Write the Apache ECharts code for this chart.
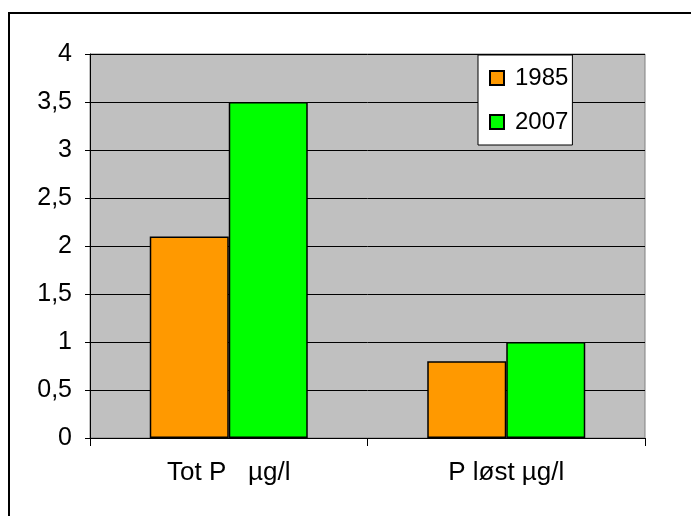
<!DOCTYPE html>
<html>
<head>
<meta charset="utf-8">
<script src="https://cdn.jsdelivr.net/npm/echarts@6/dist/echarts.min.js"></script>
<style>
  html, body { margin: 0; padding: 0; background: #fff; }
  #chart { width: 691px; height: 516px; }
</style>
</head>
<body>
<div id="chart"></div>
<script>
const categories = ['Tot P   µg/l', 'P løst µg/l']
const seriesNames = ['1985', '2007']
const values1985 = [2.1, 0.8]
const values2007 = [3.5, 1.0]
const colorList = ['#ff9900', '#00ff00']

const chart = echarts.init(document.getElementById('chart'))
const font = 'Liberation Sans, Arial, sans-serif'
const option = {
  animation: false,
  textStyle: { fontFamily: font },
  graphic: [{
    type: 'rect',
    shape: { x: 9, y: 13, width: 700, height: 520 },
    style: { fill: 'none', stroke: '#000', lineWidth: 2 },
    silent: true
  }],
  grid: {
    left: 90,
    right: 46,
    top: 54,
    bottom: 78,
    show: true,
    backgroundColor: '#c0c0c0',
    borderColor: '#808080',
    borderWidth: 1
  },
  legend: {
    orient: 'vertical',
    left: 478,
    top: 55,
    itemWidth: 14,
    itemHeight: 14,
    itemGap: 20,
    padding: [11, 4, 11, 11],
    backgroundColor: '#fff',
    borderColor: '#000',
    borderWidth: 1,
    icon: 'rect',
    textStyle: { fontSize: 24, lineHeight: 24, color: '#000', fontFamily: font, padding: [0, 0, 0, 6] },
    data: seriesNames
  },
  xAxis: {
    type: 'category',
    data: categories,
    axisLine: { lineStyle: { color: '#000', width: 1 } },
    axisTick: { show: true, length: 8, lineStyle: { color: '#000' } },
    axisLabel: { fontSize: 26, color: '#000', margin: 22, fontFamily: font }
  },
  yAxis: {
    type: 'value',
    min: 0,
    max: 4,
    interval: 0.5,
    axisLine: { show: true, lineStyle: { color: '#000', width: 1 } },
    axisTick: { show: true, length: 5, lineStyle: { color: '#000' } },
    splitLine: { show: true, lineStyle: { color: '#000', width: 1 } },
    axisLabel: {
      fontSize: 25,
      color: '#000',
      margin: 18,
      fontFamily: font,
      formatter: (v) => String(v).replace('.', ',')
    }
  },
  series: [
    {
      name: seriesNames[0],
      type: 'bar',
      data: values1985,
      barWidth: 79,
      barGap: '0%',
      itemStyle: { color: colorList[0], borderColor: '#000', borderWidth: 1.5 }
    },
    {
      name: seriesNames[1],
      type: 'bar',
      data: values2007,
      barWidth: 79,
      barGap: '0%',
      itemStyle: { color: colorList[1], borderColor: '#000', borderWidth: 1.5 }
    }
  ]
}
chart.setOption(option)
</script>
</body>
</html>
